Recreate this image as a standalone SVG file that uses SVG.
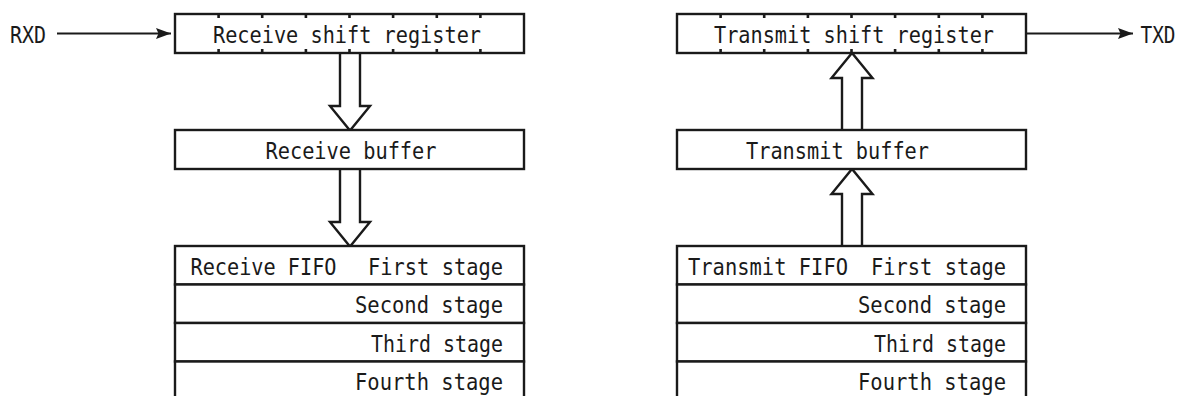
<svg xmlns="http://www.w3.org/2000/svg" width="1180" height="396" viewBox="0 0 1180 396">
<style>
  .box { fill: #fff; stroke: #1a1a1a; stroke-width: 2.4; }
  .tick { stroke: #1a1a1a; stroke-width: 2.6; }
  .blk { fill: #fff; stroke: #1a1a1a; stroke-width: 2.4; stroke-linejoin: miter; }
  .wire { stroke: #1a1a1a; stroke-width: 2; fill: none; }
  text { font-family: "DejaVu Sans Mono", "Liberation Mono", monospace; font-size: 23.5px; fill: #1a1a1a; }
  .e { text-anchor: end; }
</style>
<defs>
  <marker id="ah" viewBox="0 0 15 11" refX="15" refY="5.5" markerWidth="15" markerHeight="11" markerUnits="userSpaceOnUse" orient="auto">
    <path d="M0,0 L15,5.5 L0,11 L2.5,5.5 Z" fill="#1a1a1a"/>
  </marker>
</defs>
<rect width="1180" height="396" fill="#fff"/>

<g id="connectors">
  <line class="wire" x1="57" y1="33.5" x2="171" y2="33.5" marker-end="url(#ah)"/>
  <line class="wire" x1="1026" y1="33.5" x2="1133" y2="33.5" marker-end="url(#ah)"/>
  <path class="blk" d="M340,53 V106 H330 L350,130.5 L370,106 H360 V53"/>
  <path class="blk" d="M340,169 V222 H330 L350,246.5 L370,222 H360 V169"/>
  <path class="blk" d="M842,130 V78 H831.5 L852,53 L872.5,78 H862 V130"/>
  <path class="blk" d="M842,246 V194 H831.5 L852,169 L872.5,194 H862 V246"/>
</g>

<g id="rxd-label">
  <text x="10" y="43.3" textLength="36" lengthAdjust="spacingAndGlyphs">RXD</text>
</g>
<g id="txd-label">
  <text transform="translate(1140.5,43) scale(0.825,1)" x="0" y="0">TXD</text>
</g>

<g id="receive-shift-register">
  <rect class="box" x="175" y="14" width="349" height="39"/>
  <path class="tick" d="M218.6,14v4M262.2,14v4M305.9,14v4M349.5,14v4M393.1,14v4M436.8,14v4M480.4,14v4M218.6,53v-4M262.2,53v-4M305.9,53v-4M349.5,53v-4M393.1,53v-4M436.8,53v-4M480.4,53v-4"/>
  <text x="213" y="42.5" textLength="268" lengthAdjust="spacingAndGlyphs">Receive shift register</text>
</g>

<g id="receive-buffer">
  <rect class="box" x="175" y="130" width="349" height="39"/>
  <text x="265.5" y="159" textLength="171" lengthAdjust="spacingAndGlyphs">Receive buffer</text>
</g>

<g id="receive-fifo">
  <g id="receive-fifo-1">
    <rect class="box" x="175" y="246" width="349" height="38.5"/>
    <text x="190.5" y="275" textLength="146" lengthAdjust="spacingAndGlyphs">Receive FIFO</text>
    <text class="e" x="503" y="275" textLength="135" lengthAdjust="spacingAndGlyphs">First stage</text>
  </g>
  <g id="receive-fifo-2">
    <rect class="box" x="175" y="284.5" width="349" height="38.5"/>
    <text class="e" x="503" y="313" textLength="148" lengthAdjust="spacingAndGlyphs">Second stage</text>
  </g>
  <g id="receive-fifo-3">
    <rect class="box" x="175" y="323" width="349" height="38.5"/>
    <text class="e" x="503" y="351.5" textLength="132" lengthAdjust="spacingAndGlyphs">Third stage</text>
  </g>
  <g id="receive-fifo-4">
    <rect class="box" x="175" y="361.5" width="349" height="45"/>
    <text class="e" x="503" y="390" textLength="148" lengthAdjust="spacingAndGlyphs">Fourth stage</text>
  </g>
</g>

<g id="transmit-shift-register">
  <rect class="box" x="677" y="14" width="349" height="39"/>
  <path class="tick" d="M720.6,14v4M764.2,14v4M807.9,14v4M851.5,14v4M895.1,14v4M938.8,14v4M982.4,14v4M720.6,53v-4M764.2,53v-4M807.9,53v-4M851.5,53v-4M895.1,53v-4M938.8,53v-4M982.4,53v-4"/>
  <text x="714" y="42.5" textLength="280" lengthAdjust="spacingAndGlyphs">Transmit shift register</text>
</g>

<g id="transmit-buffer">
  <rect class="box" x="677" y="130" width="349" height="39"/>
  <text x="746" y="159" textLength="183" lengthAdjust="spacingAndGlyphs">Transmit buffer</text>
</g>

<g id="transmit-fifo">
  <g id="transmit-fifo-1">
    <rect class="box" x="677" y="246" width="349" height="38.5"/>
    <text x="688" y="275" textLength="160" lengthAdjust="spacingAndGlyphs">Transmit FIFO</text>
    <text class="e" x="1006" y="275" textLength="135" lengthAdjust="spacingAndGlyphs">First stage</text>
  </g>
  <g id="transmit-fifo-2">
    <rect class="box" x="677" y="284.5" width="349" height="38.5"/>
    <text class="e" x="1006" y="313" textLength="148" lengthAdjust="spacingAndGlyphs">Second stage</text>
  </g>
  <g id="transmit-fifo-3">
    <rect class="box" x="677" y="323" width="349" height="38.5"/>
    <text class="e" x="1006" y="351.5" textLength="132" lengthAdjust="spacingAndGlyphs">Third stage</text>
  </g>
  <g id="transmit-fifo-4">
    <rect class="box" x="677" y="361.5" width="349" height="45"/>
    <text class="e" x="1006" y="390" textLength="148" lengthAdjust="spacingAndGlyphs">Fourth stage</text>
  </g>
</g>
</svg>
